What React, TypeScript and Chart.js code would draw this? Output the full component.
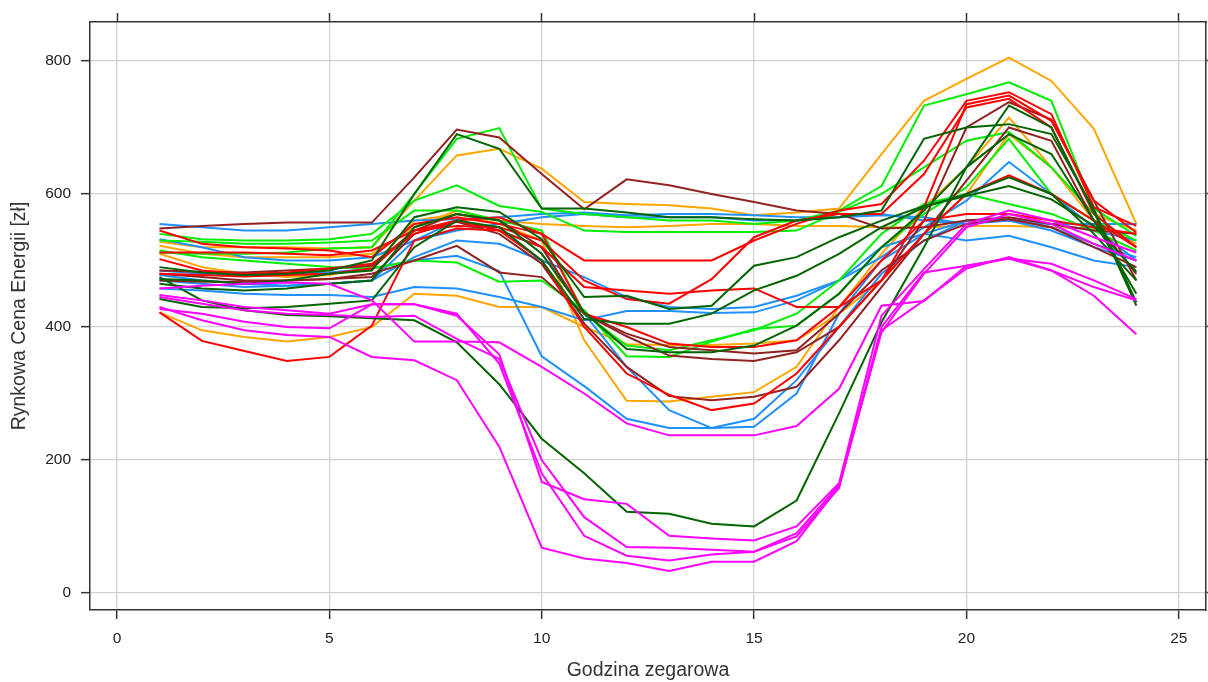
import React, { useEffect, useRef } from "react";
import { Chart, registerables } from "chart.js";

Chart.register(...registerables);

const HOURS = [1, 2, 3, 4, 5, 6, 7, 8, 9, 10, 11, 12, 13, 14, 15, 16, 17, 18, 19, 20, 21, 22, 23, 24];

const X_TITLE = "Godzina zegarowa";
const Y_TITLE = "Rynkowa Cena Energii [zł]";

const MAGENTA = "#FF00FF";
const DARKGREEN = "#006400";
const RED = "#FF0000";
const BROWN = "#922222";
const GREEN = "#00EE00";
const BLUE = "#1E90FF";
const ORANGE = "#FFA500";

// magenta days
const M1 = [430, 410, 395, 388, 385, 355, 350, 320, 220, 68, 52, 45, 33, 47, 47, 78, 160, 395, 440, 488, 505, 485, 447, 389];
const M2 = [448, 440, 430, 425, 420, 434, 434, 417, 359, 167, 141, 134, 86, 82, 79, 100, 165, 417, 487, 555, 575, 560, 535, 512];
const M3 = [445, 435, 425, 420, 418, 415, 417, 382, 352, 200, 114, 69, 68, 65, 62, 90, 162, 392, 480, 550, 570, 555, 525, 500];
const M4 = [427, 420, 408, 400, 398, 434, 434, 420, 345, 180, 86, 56, 49, 58, 62, 85, 158, 400, 482, 492, 503, 495, 470, 442];
const M5 = [458, 462, 465, 467, 465, 440, 378, 378, 377, 340, 300, 255, 237, 237, 237, 251, 307, 432, 439, 492, 503, 485, 460, 440];

// dark green days
const DG1 = [475, 440, 425, 418, 416, 413, 410, 377, 314, 232, 180, 122, 119, 104, 100, 139, 270, 407, 520, 640, 733, 700, 573, 432];
const DG2 = [490, 482, 478, 480, 485, 500, 600, 690, 668, 578, 578, 572, 565, 565, 562, 560, 565, 575, 683, 700, 705, 690, 577, 437];
const DG3 = [472, 470, 465, 470, 480, 485, 565, 580, 573, 532, 445, 447, 427, 432, 492, 505, 535, 560, 582, 597, 612, 592, 552, 483];
const DG4 = [465, 458, 455, 458, 465, 470, 550, 570, 560, 510, 422, 367, 362, 362, 372, 402, 450, 520, 575, 640, 690, 660, 560, 450];
const DG5 = [442, 430, 428, 430, 435, 440, 520, 560, 550, 500, 412, 405, 405, 420, 455, 477, 510, 550, 580, 600, 625, 600, 540, 470];

// red days
const R1 = [422, 379, 364, 349, 355, 402, 530, 548, 545, 520, 460, 455, 450, 455, 458, 430, 430, 470, 540, 600, 628, 600, 560, 520];
const R2 = [545, 525, 520, 518, 515, 505, 555, 565, 555, 540, 500, 500, 500, 500, 530, 555, 575, 585, 650, 740, 753, 720, 580, 552];
const R3 = [502, 485, 480, 482, 488, 495, 540, 560, 545, 500, 400, 330, 298, 275, 285, 330, 400, 470, 580, 735, 748, 710, 590, 542];
const R4 = [480, 478, 476, 478, 480, 488, 545, 552, 550, 530, 470, 442, 435, 472, 535, 560, 570, 570, 630, 730, 743, 700, 570, 520];
const R5 = [512, 512, 512, 510, 508, 515, 545, 560, 565, 540, 420, 400, 375, 370, 370, 380, 430, 500, 560, 570, 570, 560, 550, 540];

// brown days
const BR1 = [548, 552, 555, 557, 557, 557, 625, 697, 685, 630, 577, 622, 613, 600, 588, 575, 570, 548, 550, 560, 565, 555, 545, 540];
const BR2 = [485, 483, 482, 485, 488, 492, 545, 570, 560, 520, 420, 386, 357, 352, 349, 362, 400, 470, 560, 700, 738, 712, 590, 470];
const BR3 = [470, 468, 468, 470, 472, 475, 540, 558, 540, 495, 405, 340, 296, 290, 295, 310, 380, 460, 540, 620, 700, 680, 560, 480];
const BR4 = [480, 475, 470, 470, 472, 480, 500, 522, 482, 475, 420, 390, 370, 365, 360, 365, 420, 485, 530, 555, 562, 550, 520, 490];

// green days
const G1 = [512, 510, 510, 512, 518, 520, 600, 683, 699, 578, 570, 565, 560, 560, 555, 560, 575, 612, 733, 750, 768, 740, 578, 537];
const G2 = [540, 532, 530, 530, 532, 540, 590, 613, 582, 573, 545, 543, 543, 543, 543, 545, 573, 600, 640, 680, 693, 640, 570, 520];
const G3 = [515, 505, 500, 495, 490, 488, 500, 497, 468, 470, 425, 356, 355, 378, 397, 402, 450, 520, 570, 610, 683, 600, 560, 530];
const G4 = [530, 528, 525, 525, 527, 530, 575, 575, 560, 545, 420, 372, 365, 380, 395, 420, 470, 540, 585, 600, 585, 570, 545, 515];

// blue days
const BL1 = [555, 550, 545, 545, 550, 555, 560, 562, 565, 570, 572, 568, 570, 570, 568, 565, 565, 568, 565, 555, 560, 555, 555, 555];
const BL2 = [485, 480, 478, 480, 482, 488, 500, 507, 484, 356, 311, 262, 248, 248, 250, 300, 420, 500, 540, 560, 560, 545, 520, 500];
const BL3 = [470, 465, 460, 462, 465, 470, 530, 560, 545, 520, 420, 340, 275, 248, 262, 320, 400, 480, 530, 560, 562, 550, 525, 505];
const BL4 = [478, 470, 465, 462, 465, 470, 505, 530, 525, 500, 475, 445, 430, 427, 430, 447, 470, 505, 550, 590, 648, 600, 550, 500];
const BL5 = [458, 455, 450, 448, 448, 445, 460, 458, 445, 430, 410, 424, 424, 421, 422, 440, 470, 520, 540, 530, 537, 520, 500, 490];
const BL6 = [532, 520, 505, 500, 500, 505, 530, 545, 555, 565, 570, 565, 565, 565, 560, 560, 565, 570, 560, 555, 562, 555, 545, 530];

// orange days
const O1 = [528, 520, 520, 520, 518, 520, 590, 658, 668, 638, 588, 585, 583, 578, 568, 572, 578, 660, 740, 773, 805, 770, 698, 555];
const O2 = [510, 490, 480, 475, 478, 490, 560, 570, 555, 530, 380, 289, 288, 295, 302, 340, 430, 510, 580, 640, 715, 640, 570, 545];
const O3 = [522, 510, 505, 505, 505, 510, 550, 575, 560, 555, 552, 550, 552, 555, 555, 552, 552, 550, 550, 552, 552, 550, 548, 540];
const O4 = [422, 395, 385, 378, 385, 400, 450, 447, 430, 430, 400, 374, 373, 373, 375, 380, 420, 470, 540, 600, 690, 640, 560, 525];

const SERIES: { values: number[]; color: string }[] = [
  { values: M1, color: MAGENTA },
  { values: M2, color: MAGENTA },
  { values: M3, color: MAGENTA },
  { values: M4, color: MAGENTA },
  { values: M5, color: MAGENTA },
  { values: DG1, color: DARKGREEN },
  { values: DG2, color: DARKGREEN },
  { values: DG3, color: DARKGREEN },
  { values: DG4, color: DARKGREEN },
  { values: DG5, color: DARKGREEN },
  { values: R1, color: RED },
  { values: R2, color: RED },
  { values: R3, color: RED },
  { values: R4, color: RED },
  { values: R5, color: RED },
  { values: BR1, color: BROWN },
  { values: BR2, color: BROWN },
  { values: BR3, color: BROWN },
  { values: BR4, color: BROWN },
  { values: G1, color: GREEN },
  { values: G2, color: GREEN },
  { values: G3, color: GREEN },
  { values: G4, color: GREEN },
  { values: BL1, color: BLUE },
  { values: BL2, color: BLUE },
  { values: BL3, color: BLUE },
  { values: BL4, color: BLUE },
  { values: BL5, color: BLUE },
  { values: BL6, color: BLUE },
  { values: O1, color: ORANGE },
  { values: O2, color: ORANGE },
  { values: O3, color: ORANGE },
  { values: O4, color: ORANGE },
];

const X_MIN = -0.636;
const X_MAX = 25.64;
const Y_MIN = -25.6;
const Y_MAX = 858.6;

export default function App() {
  const ref = useRef<HTMLCanvasElement | null>(null);

  useEffect(() => {
    if (!ref.current) return;
    const FONT = "'Liberation Sans', Arial, sans-serif";
    const gridCol = "#d2d2d2";
    const axisCol = "#333333";
    const tickFont = { family: FONT, size: 15.5 };
    const titleFont = { family: FONT, size: 19.5 };

    const chart = new Chart(ref.current, {
      type: "line",
      data: {
        datasets: SERIES.map((s, i) => ({
          label: "s" + i,
          data: HOURS.map((h, j) => ({ x: h, y: s.values[j] })),
          borderColor: s.color,
          backgroundColor: s.color,
          borderWidth: 2,
          pointRadius: 0,
          tension: 0,
          fill: false,
          xAxisID: "x",
          yAxisID: "y",
        })),
      },
      options: {
        responsive: false,
        animation: false,
        devicePixelRatio: 1,
        layout: { padding: 0 },
        plugins: { legend: { display: false }, tooltip: { enabled: false } },
        scales: {
          x: {
            type: "linear",
            position: "bottom",
            min: X_MIN,
            max: X_MAX,
            ticks: { stepSize: 5, includeBounds: false, color: "#222", font: tickFont, padding: 10, maxRotation: 0 },
            grid: { color: gridCol, lineWidth: 1.3, tickColor: axisCol, tickLength: 9, tickWidth: 1.5 },
            border: { display: true, color: axisCol, width: 1.5 },
            title: { display: true, text: X_TITLE, color: "#333", font: titleFont, padding: { top: 0, bottom: 0 } },
            afterFit: (s: any) => { s.height = 72; },
          },
          x2: {
            type: "linear",
            position: "top",
            min: X_MIN,
            max: X_MAX,
            ticks: { stepSize: 5, includeBounds: false, display: false },
            grid: { drawOnChartArea: false, tickColor: axisCol, tickLength: 9, tickWidth: 1.5 },
            border: { display: true, color: axisCol, width: 1.5 },
            afterFit: (s: any) => { s.height = 22; },
          },
          y: {
            type: "linear",
            position: "left",
            min: Y_MIN,
            max: Y_MAX,
            ticks: { stepSize: 200, includeBounds: false, color: "#222", font: tickFont, padding: 10 },
            grid: { color: gridCol, lineWidth: 1.3, tickColor: axisCol, tickLength: 9, tickWidth: 1.5 },
            border: { display: true, color: axisCol, width: 1.5 },
            title: { display: true, text: Y_TITLE, color: "#333", font: titleFont, padding: { top: 8, bottom: 0 } },
            afterFit: (s: any) => { s.width = 90; },
          },
          y2: {
            type: "linear",
            position: "right",
            min: Y_MIN,
            max: Y_MAX,
            ticks: { stepSize: 200, includeBounds: false, display: false },
            grid: { drawOnChartArea: false, tickColor: axisCol, tickLength: 9, tickWidth: 1.5 },
            border: { display: true, color: axisCol, width: 1.5 },
            afterFit: (s: any) => { s.width = 2; },
          },
        },
      } as any,
    });
    return () => chart.destroy();
  }, []);

  return (
    <div style={{ position: "fixed", left: 0, top: 0, width: 1208, height: 682, background: "#fff" }}>
      <canvas ref={ref} width={1208} height={682} style={{ display: "block" }} />
    </div>
  );
}
